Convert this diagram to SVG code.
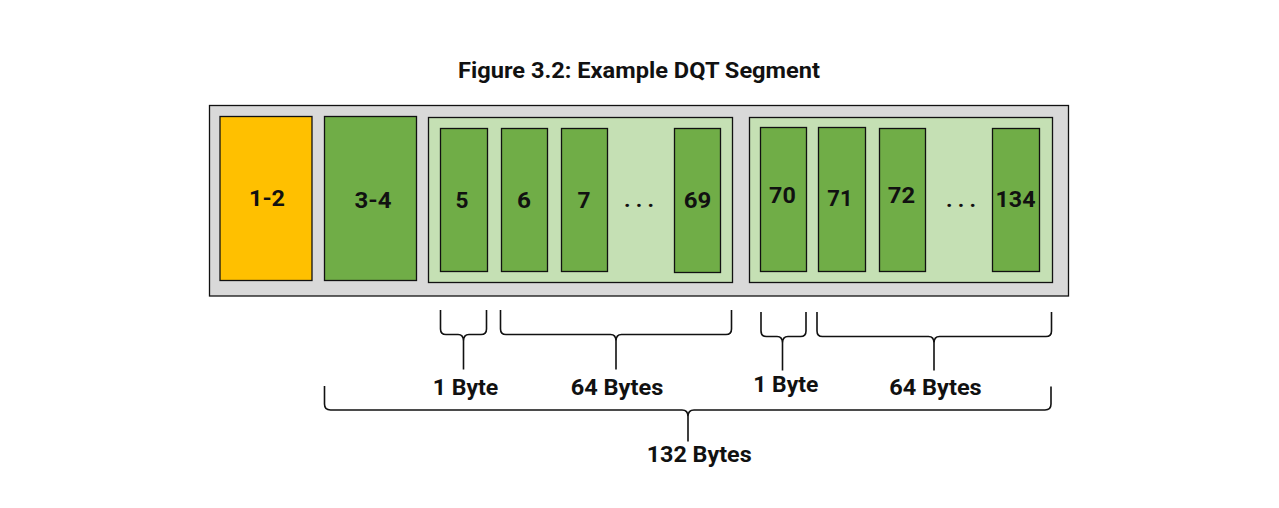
<svg xmlns="http://www.w3.org/2000/svg" width="1279" height="508" viewBox="0 0 1279 508">
<style>
.t{font-family:Roboto,"Liberation Sans",sans-serif;font-weight:bold;fill:#111;text-anchor:middle;font-size:22.5px}
.g{fill:#70ad47;stroke:#111;stroke-width:1.3}
.y{fill:#ffc000;stroke:#111;stroke-width:1.3}
.lg{fill:#c5e0b4;stroke:#111;stroke-width:1.3}
.br{fill:none;stroke:#111;stroke-width:1.6}
</style>
<rect width="1279" height="508" fill="#fff"/>
<text class="t" x="639" y="78" textLength="362" lengthAdjust="spacingAndGlyphs">Figure 3.2: Example DQT Segment</text>
<g id="segment">
<rect x="209.5" y="105.5" width="859" height="190.5" fill="#d9d9d9" stroke="#111" stroke-width="1.3"/>
</g>
<g id="n12"><rect class="y" x="220" y="116.5" width="92" height="164"/><text class="t" x="267" y="206" textLength="36" lengthAdjust="spacingAndGlyphs">1-2</text></g>
<g id="n34"><rect class="g" x="324.5" y="116.5" width="92" height="164"/><text class="t" x="373" y="207.5" textLength="37" lengthAdjust="spacingAndGlyphs">3-4</text></g>
<g id="table1">
<rect class="lg" x="428.5" y="117.5" width="304" height="165"/>
<g id="n5"><rect class="g" x="440.5" y="128.5" width="47" height="143"/><text class="t" x="462" y="207.5" textLength="13" lengthAdjust="spacingAndGlyphs">5</text></g>
<g id="n6"><rect class="g" x="501.5" y="128.5" width="46" height="143"/><text class="t" x="524" y="208" textLength="14" lengthAdjust="spacingAndGlyphs">6</text></g>
<g id="n7"><rect class="g" x="561.5" y="128.5" width="46" height="143"/><text class="t" x="584" y="208" textLength="13" lengthAdjust="spacingAndGlyphs">7</text></g>
<text class="t" x="639" y="207" textLength="30" lengthAdjust="spacing">. . .</text>
<g id="n69"><rect class="g" x="674.5" y="128.5" width="46" height="144"/><text class="t" x="697.6" y="208" textLength="27.6" lengthAdjust="spacingAndGlyphs">69</text></g>
</g>
<g id="table2">
<rect class="lg" x="749.5" y="117.5" width="303" height="165"/>
<g id="n70"><rect class="g" x="760.5" y="127.5" width="46" height="144"/><text class="t" x="782.4" y="203" textLength="26.7" lengthAdjust="spacingAndGlyphs">70</text></g>
<g id="n71"><rect class="g" x="818.5" y="127.5" width="47" height="144"/><text class="t" x="840" y="205.5" textLength="25.3" lengthAdjust="spacingAndGlyphs">71</text></g>
<g id="n72"><rect class="g" x="879.5" y="128.5" width="46" height="143"/><text class="t" x="901.4" y="203" textLength="27.3" lengthAdjust="spacingAndGlyphs">72</text></g>
<text class="t" x="961" y="207" textLength="30" lengthAdjust="spacing">. . .</text>
<g id="n134"><rect class="g" x="992.5" y="128.5" width="47" height="143"/><text class="t" x="1015.5" y="206.5" textLength="40" lengthAdjust="spacingAndGlyphs">134</text></g>
</g>
<g id="connectors">
<path class="br" d="M440.5,310 V329 Q440.5,334.5 446,334.5 H458 Q463.5,334.5 463.5,341 V369.5 M486.5,310 V329 Q486.5,334.5 481,334.5 H469 Q463.5,334.5 463.5,341"/>
<path class="br" d="M500.5,310 V329 Q500.5,334.5 506,334.5 H610.5 Q616,334.5 616,341 V369.5 M731.5,310 V329 Q731.5,334.5 726,334.5 H621.5 Q616,334.5 616,341"/>
<path class="br" d="M761,312 V331 Q761,336.5 766.5,336.5 H777 Q782.5,336.5 782.5,343 V370.5 M806,312 V331 Q806,336.5 800.5,336.5 H788 Q782.5,336.5 782.5,343"/>
<path class="br" d="M817,312 V331 Q817,336.5 822.5,336.5 H928.5 Q934,336.5 934,343 V370.5 M1051.5,312 V331 Q1051.5,336.5 1046,336.5 H939.5 Q934,336.5 934,343"/>
<path class="br" d="M324.5,386 V404 Q324.5,410 330.5,410 H682 Q688,410 688,416.5 V441.5 M1051,386.5 V404 Q1051,410 1045,410 H694 Q688,410 688,416.5"/>
</g>
<g id="labels">
<text class="t" x="465.5" y="394.5" textLength="65.6" lengthAdjust="spacingAndGlyphs">1 Byte</text>
<text class="t" x="617" y="395" textLength="92.6" lengthAdjust="spacingAndGlyphs">64 Bytes</text>
<text class="t" x="785.8" y="392" textLength="65" lengthAdjust="spacingAndGlyphs">1 Byte</text>
<text class="t" x="935.5" y="395" textLength="92.4" lengthAdjust="spacingAndGlyphs">64 Bytes</text>
<text class="t" x="699.2" y="462" textLength="105" lengthAdjust="spacingAndGlyphs">132 Bytes</text>
</g>
</svg>
